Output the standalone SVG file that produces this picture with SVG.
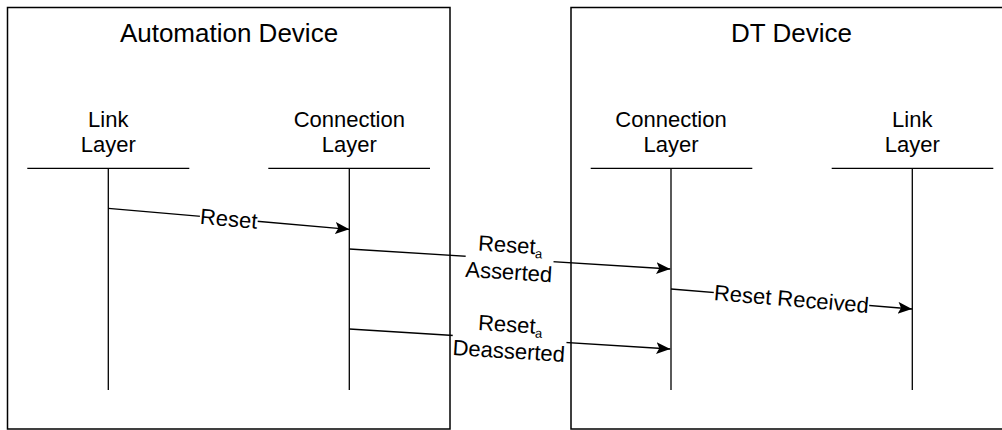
<svg xmlns="http://www.w3.org/2000/svg" width="1002" height="430" viewBox="0 0 1002 430">
<style>
.box{fill:#fff;stroke:#000;stroke-width:1.5}
.ln{stroke:#000;stroke-width:1.3;fill:none}
.msg{stroke:#000;stroke-width:1.3;fill:none;marker-end:url(#ah)}
.title{font-family:"Liberation Sans",Arial,sans-serif;font-size:26px;fill:#000;text-anchor:middle}
.lbl{font-family:"Liberation Sans",Arial,sans-serif;font-size:22px;fill:#000;text-anchor:middle}
.bg{fill:#fff;stroke:none}
</style>
<defs>
<marker id="ah" markerUnits="userSpaceOnUse" markerWidth="15" markerHeight="13" refX="14" refY="6" orient="auto">
<path d="M0,0 L14,6 L0,12 L3,6 Z" fill="#000"/>
</marker>
</defs>
<g id="automation-device">
<rect class="box" x="7.5" y="7.5" width="442.5" height="421.5"/>
<text class="title" x="229" y="41.5">Automation Device</text>
</g>
<g id="dt-device">
<rect class="box" x="571" y="7.5" width="442" height="421.5"/>
<text class="title" x="791.5" y="41.5">DT Device</text>
</g>
<g id="ad-link-layer">
<text class="lbl" x="108.3" y="126.7">Link</text>
<text class="lbl" x="108.3" y="151.7">Layer</text>
<line class="ln" x1="27.3" y1="168.3" x2="189.3" y2="168.3"/>
<line class="ln" x1="108.3" y1="168.3" x2="108.3" y2="390"/>
</g>
<g id="ad-connection-layer">
<text class="lbl" x="349.3" y="126.7">Connection</text>
<text class="lbl" x="349.3" y="151.7">Layer</text>
<line class="ln" x1="268.3" y1="168.3" x2="430" y2="168.3"/>
<line class="ln" x1="349.3" y1="168.3" x2="349.3" y2="390"/>
</g>
<g id="dt-connection-layer">
<text class="lbl" x="671" y="126.7">Connection</text>
<text class="lbl" x="671" y="151.7">Layer</text>
<line class="ln" x1="590.7" y1="168.3" x2="752.3" y2="168.3"/>
<line class="ln" x1="671" y1="168.3" x2="671" y2="390"/>
</g>
<g id="dt-link-layer">
<text class="lbl" x="912.3" y="126.7">Link</text>
<text class="lbl" x="912.3" y="151.7">Layer</text>
<line class="ln" x1="831.7" y1="168.3" x2="993.3" y2="168.3"/>
<line class="ln" x1="912.3" y1="168.3" x2="912.3" y2="390"/>
</g>
<g id="connectors">
<line class="msg" x1="108.3" y1="208.3" x2="349.3" y2="229.3"/>
<line class="msg" x1="349.3" y1="249" x2="670.3" y2="269"/>
<line class="msg" x1="349.3" y1="329" x2="670.3" y2="349"/>
<line class="msg" x1="671" y1="289" x2="912" y2="309"/>
<g transform="translate(228.8,218.8) rotate(4.98)">
<rect class="bg" x="-29" y="-10" width="58" height="20"/>
<text class="lbl" x="0" y="7.5">Reset</text>
</g>
<g transform="translate(509.6,259) rotate(3.57)">
<rect class="bg" x="-44" y="-23" width="88" height="49"/>
<text class="lbl" x="0" y="-6.5">Reset<tspan font-size="13" dy="4">a</tspan></text>
<text class="lbl" x="0" y="20.5">Asserted</text>
</g>
<g transform="translate(509.6,339) rotate(3.57)">
<rect class="bg" x="-57" y="-23" width="114" height="49"/>
<text class="lbl" x="0" y="-7">Reset<tspan font-size="13" dy="4">a</tspan></text>
<text class="lbl" x="0" y="19.5">Deasserted</text>
</g>
<g transform="translate(791.5,299) rotate(4.74)">
<rect class="bg" x="-78" y="-10" width="156" height="20"/>
<text class="lbl" x="0" y="7.5">Reset Received</text>
</g>
</g>
</svg>
